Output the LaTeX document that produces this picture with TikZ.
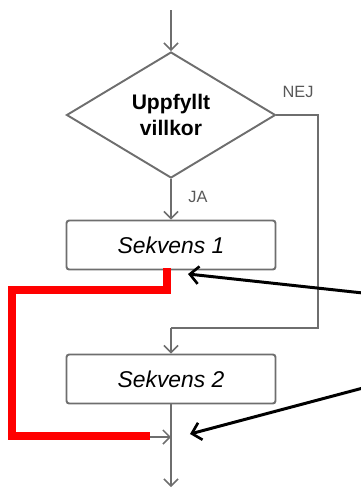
\documentclass[tikz,border=0pt]{standalone}
\usepackage{fontspec}
\setmainfont{Liberation Sans}
\usetikzlibrary{shapes.geometric,arrows.meta}
\definecolor{flowgray}{HTML}{6E6E6E}

\begin{document}
\begin{tikzpicture}[x=0.02cm,y=-0.02cm,
  flow/.style={draw=flowgray,line width=1.1pt},
  tip/.style={-{Straight Barb[length=4pt,width=8pt,line width=0.9pt]}},
  cond/.style={diamond,draw=flowgray,line width=1.1pt,inner sep=0pt,
               minimum width=4.18cm,minimum height=2.52cm,align=center,
               font=\bfseries\fontsize{12}{15}\selectfont},
  seqbox/.style={draw=flowgray,line width=1.1pt,rounded corners=1.5pt,
                 minimum width=4.18cm,minimum height=0.98cm,
                 font=\itshape\fontsize{13}{15}\selectfont},
  lbl/.style={text=flowgray!80!black,font=\fontsize{9.3}{11}\selectfont},
  hilite/.style={draw=red,line width=4.3pt},
  pointer/.style={draw=black,line width=1.7pt,
                  -{Straight Barb[length=5pt,width=10pt,line width=1.5pt]}}]
  \useasboundingbox (0,0) rectangle (361,488);

  \coordinate (start) at (171,10);
  \node[cond] (test) at (171,115) {Uppfyllt\\villkor};
  \node[seqbox] (seq1) at (171,245) {Sekvens 1};
  \node[seqbox] (seq2) at (171,379) {Sekvens 2};
  \coordinate (nejA) at (318,115);
  \coordinate (nejB) at (318,328);
  \coordinate (nejC) at (171,328);
  \coordinate (join) at (171,437);
  \coordinate (stop) at (171,487);
  \coordinate (feed) at (140,437);

  % main flow
  \draw[flow,tip] (start) -- (test.north);
  \draw[flow,tip] (test.south) -- (seq1.north)
    node[lbl,pos=0.45,right=6pt] {JA};
  \draw[flow] (test.east) -- (nejA) -- (nejB) -- (nejC);
  \draw[flow,tip] (nejC) -- (seq2.north);
  \node[lbl] (nej) at (298,92) {NEJ};
  \draw[flow] (seq2.south) -- (join);
  \draw[flow,tip] (join) -- (stop);
  \draw[flow,tip] (feed) -- (join);

  % highlighted loop
  \coordinate (redA) at (167,268);
  \coordinate (redB) at (167,290);
  \coordinate (redC) at (12,290);
  \coordinate (redD) at (12,436);
  \coordinate (redE) at (150,436);
  \draw[hilite] (redA) -- (redB) -- (redC) -- (redD) -- (redE);

  % pointers from the right
  \coordinate (fromA) at (363,293);
  \coordinate (fromB) at (363,388);
  \coordinate (toA) at (188,274);
  \coordinate (toB) at (190,434);
  \draw[pointer] (fromA) -- (toA);
  \draw[pointer] (fromB) -- (toB);
\end{tikzpicture}
\end{document}
